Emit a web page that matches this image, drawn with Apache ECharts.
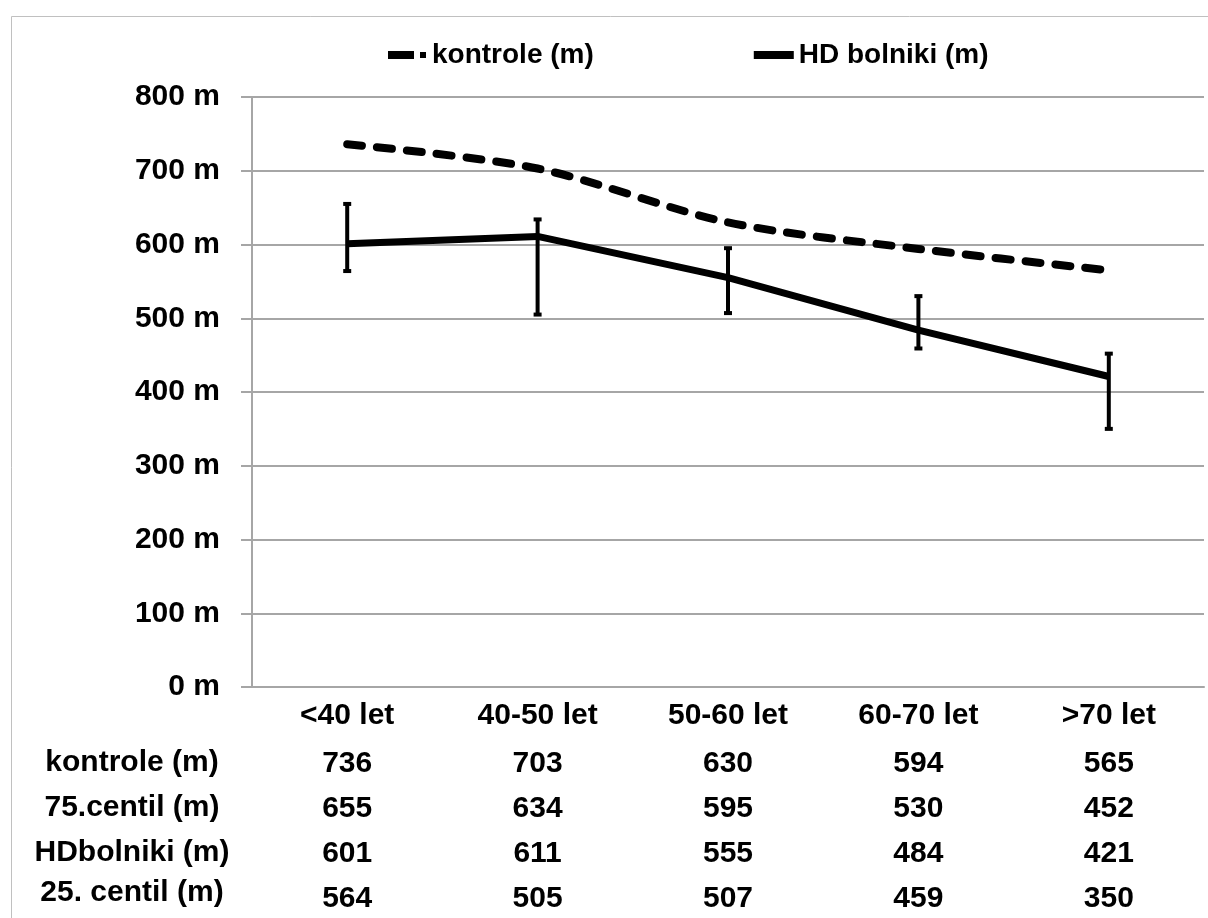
<!DOCTYPE html>
<html>
<head>
<meta charset="utf-8">
<script src="https://cdn.jsdelivr.net/npm/echarts@6/dist/echarts.min.js"></script>
<style>
  html, body { margin: 0; padding: 0; background: #fff; }
  #chart { width: 1208px; height: 918px; }
</style>
</head>
<body>
<div id="chart"></div>
<script>
// categories and values
const ageGroups = ["<40 let", "40-50 let", "50-60 let", "60-70 let", ">70 let"];
const kontrole = [736, 703, 630, 594, 565];
const centil75 = [655, 634, 595, 530, 452];
const hdBolniki = [601, 611, 555, 484, 421];
const centil25 = [564, 505, 507, 459, 350];
const rowLabels = ["kontrole (m)", "75.centil (m)", "HDbolniki (m)", "25. centil (m)"];

document.addEventListener("DOMContentLoaded", function () {
  initChart();
});

function initChart() {
  let chartDom = document.getElementById("chart");
  let myChart = echarts.init(chartDom);

  const font = "Liberation Sans, Arial, sans-serif";
  const gray = "#a6a6a6";

  // error bar data: [index, low, high]
  const errData = ageGroups.map(function (c, i) {
    return [i, centil25[i], centil75[i]];
  });

  // row captions of the table under the axis
  const rowY = [763, 808, 853, 893];
  const rowGraphics = rowLabels.map(function (t, i) {
    return {
      type: "text",
      x: 132,
      y: rowY[i],
      style: {
        text: t,
        font: "bold 30px " + font,
        fill: "#000",
        align: "center",
        verticalAlign: "middle",
      },
    };
  });

  let option = {
    backgroundColor: "#fff",
    animation: false,
    textStyle: { fontFamily: font },
    graphic: [
      {
        type: "rect",
        left: 9,
        top: 14,
        shape: { width: 1300, height: 1000 },
        style: { fill: "none", stroke: "#c0c0c0", lineWidth: 1 },
      },
    ].concat(rowGraphics),
    legend: {
      top: 36,
      left: 383,
      itemGap: 160,
      textStyle: { fontSize: 28, fontWeight: "bold", color: "#000", fontFamily: font },
      data: [
        {
          name: "kontrole (m)",
          icon: "path://M0,0 L26,0 L26,8 L0,8 Z M32,1 L38,1 L38,7 L32,7 Z",
          itemStyle: { color: "#000" },
        },
        {
          name: "HD bolniki (m)",
          icon: "rect",
          itemStyle: { color: "#000" },
        },
      ],
      itemWidth: 40,
      itemHeight: 8,
    },
    grid: {
      left: 252,
      right: 4,
      top: 97,
      bottom: 231,
    },
    xAxis: {
      type: "category",
      data: ageGroups,
      axisLine: { lineStyle: { color: gray, width: 2 } },
      axisTick: { show: false },
      axisLabel: {
        margin: 4,
        interval: 0,
        verticalAlign: "top",
        formatter: function (val, idx) {
          return (
            "{cat|" + val + "}\n{v|" + kontrole[idx] + "}\n{v|" + centil75[idx] +
            "}\n{v|" + hdBolniki[idx] + "}\n{v|" + centil25[idx] + "}"
          );
        },
        rich: {
          cat: { fontSize: 30, fontWeight: "bold", color: "#000", lineHeight: 50, fontFamily: font },
          v: { fontSize: 30, color: "#000", lineHeight: 45, fontFamily: font, fontWeight: "bold" },
        },
      },
    },
    yAxis: {
      type: "value",
      min: 0,
      max: 800,
      interval: 100,
      axisLine: { show: true, lineStyle: { color: gray, width: 2 } },
      axisTick: { show: true, length: 11, lineStyle: { color: gray, width: 2 } },
      splitLine: { lineStyle: { color: gray, width: 2 } },
      axisLabel: {
        formatter: "{value} m",
        fontSize: 30,
        fontWeight: "bold",
        color: "#000",
        margin: 32,
        fontFamily: font,
      },
    },
    series: [
      {
        name: "kontrole (m)",
        type: "line",
        data: kontrole,
        smooth: 0.3,
        symbol: "none",
        lineStyle: { color: "#000", width: 8, type: [15, 15], cap: "round" },
        itemStyle: { color: "#000" },
        z: 3,
      },
      {
        name: "HD bolniki (m)",
        type: "line",
        data: hdBolniki,
        symbol: "none",
        lineStyle: { color: "#000", width: 7 },
        itemStyle: { color: "#000" },
        z: 3,
      },
      {
        name: "centil",
        type: "custom",
        data: errData,
        z: 4,
        renderItem: function (params, api) {
          let low = api.coord([api.value(0), api.value(1)]);
          let high = api.coord([api.value(0), api.value(2)]);
          let capW = 4;
          let st = { stroke: "#000", lineWidth: 4 };
          return {
            type: "group",
            children: [
              { type: "line", shape: { x1: high[0], y1: high[1], x2: low[0], y2: low[1] }, style: st },
              { type: "line", shape: { x1: high[0] - capW, y1: high[1], x2: high[0] + capW, y2: high[1] }, style: st },
              { type: "line", shape: { x1: low[0] - capW, y1: low[1], x2: low[0] + capW, y2: low[1] }, style: st },
            ],
          };
        },
      },
    ],
  };

  myChart.setOption(option);

  window.addEventListener("resize", function () {
    myChart.resize();
  });
}
</script>
</body>
</html>
